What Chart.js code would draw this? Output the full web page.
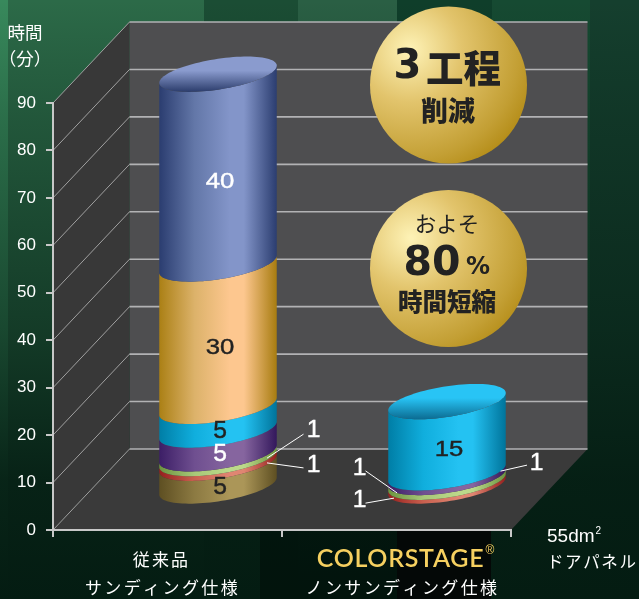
<!DOCTYPE html>
<html>
<head>
<meta charset="utf-8">
<title>工程削減</title>
<script src="https://cdn.jsdelivr.net/npm/chart.js@4/dist/chart.umd.min.js"></script>
<style>
html, body { margin: 0; padding: 0; background: #06231a; }
canvas { display: block; }
</style>
</head>
<body>
<canvas id="chart" width="639" height="599"></canvas>
<script>
// data, bottom of the stack first
const categories = [["従来品", "サンディング仕様"], ["COLORSTAGE", "ノンサンディング仕様"]];
const yTicks = [0, 10, 20, 30, 40, 50, 60, 70, 80, 90];
const seriesOlive = [5, 0];
const seriesRed = [1, 1];
const seriesGreen = [1, 1];
const seriesPurple = [5, 1];
const seriesCyan = [5, 15];
const seriesOrange = [30, 0];
const seriesBlue = [40, 0];

const FONT_JP = '"Noto Sans CJK JP", sans-serif';
const FONT_NUM = '"DejaVu Sans", sans-serif';
const FONT_AXIS = '"Liberation Sans", sans-serif';

// the cylinders stand this far back from the front edge of the floor
const DEPTH_X = 50.5;
const DEPTH_Y = 43;
// back wall offset
const WALL_X = 76.5;
const WALL_Y = 81;

// vertical stripes of the backdrop: from x, to x, colour at the top
const stripes = [
    [0, 8, "#38895c"],
    [8, 204, "#2c6a48"],
    [204, 298, "#1b4d34"],
    [298, 397, "#2a5f44"],
    [397, 492, "#0f3e2a"],
    [492, 590, "#164a32"],
    [590, 639, "#153f2e"],
];

// side: [edge, middle, highlight, edge], top: [back, front]
const skins = [
    { side: ["#5e4f22", "#8c7a42", "#ab9658", "#5e4f22"], label: "#222" },
    { side: ["#96201e", "#c9604f", "#e08672", "#96201e"], label: "#222" },
    { side: ["#6c9440", "#a8c878", "#bcd98a", "#6c9440"], label: "#222" },
    { side: ["#3c1e66", "#6f4f90", "#86659f", "#33185c"], label: "#fff" },
    { side: ["#007ea6", "#10aedd", "#24c2f2", "#00749b"], top: ["#28c4f5", "#0b6a90"], label: "#222" },
    { side: ["#ab8015", "#dcb26a", "#fdc78f", "#a87c10"], top: ["#fdc78f", "#ab8015"], label: "#222" },
    { side: ["#2b3d70", "#6377a8", "#8395c9", "#2b3d70"], top: ["#8a9bce", "#2a3b6a"], label: "#fff" },
];

// annotation leaders for the thin bands: dataset, category, anchor and label offsets from the bar centre
const leaders = [
    { ds: 2, cat: 0, from: [49, 2], to: [85.5, -22], text: [95.5, -26] },
    { ds: 1, cat: 0, from: [49, 2], to: [85.5, 7], text: [95.5, 5] },
    { ds: 3, cat: 1, from: [53.5, -4], to: [80, -10], text: [89.5, -12] },
    { ds: 2, cat: 1, from: [-50, 13], to: [-81.5, -9], text: [-87.5, -11] },
    { ds: 1, cat: 1, from: [-53, 14], to: [-81.5, 19], text: [-87.5, 16.5] },
];

// one side of the tilted end ellipse, from the left extreme round the front to the right one
function rimPoints(cx, cy, w) {
    const R = w / 2, S = 8.65, H = 15.4;
    const pts = [];
    for (let i = 0; i <= 48; i++) {
        const t = Math.PI - (Math.PI * i) / 48;
        pts.push([cx + R * Math.cos(t), cy - S * Math.cos(t) + H * Math.sin(t)]);
    }
    return pts;
}

function drawSegment(ctx, bar, skin, isTop) {
    const cx = bar.x + DEPTH_X;
    const w = bar.width;
    const yBase = bar.base - DEPTH_Y;
    const yTop = bar.y - DEPTH_Y;
    const grad = ctx.createLinearGradient(cx - w / 2, 0, cx + w / 2, 0);
    grad.addColorStop(0, skin.side[0]);
    grad.addColorStop(0.3, skin.side[1]);
    grad.addColorStop(0.6, skin.side[2]);
    grad.addColorStop(0.72, skin.side[2]);
    grad.addColorStop(1, skin.side[3]);
    const lower = rimPoints(cx, yBase, w);
    const upper = rimPoints(cx, yTop, w).reverse();
    ctx.beginPath();
    lower.concat(upper).forEach((p, i) => (i ? ctx.lineTo(p[0], p[1]) : ctx.moveTo(p[0], p[1])));
    ctx.closePath();
    ctx.fillStyle = grad;
    ctx.fill();
    if (isTop) {
        const front = rimPoints(cx, yTop, w);
        const back = front.map((p) => [2 * cx - p[0], 2 * yTop - p[1]]);
        const g2 = ctx.createLinearGradient(0, yTop - 18, 0, yTop + 18);
        g2.addColorStop(0, skin.top[0]);
        g2.addColorStop(0.4, skin.top[0]);
        g2.addColorStop(1, skin.top[1]);
        ctx.beginPath();
        front.concat(back).forEach((p, i) => (i ? ctx.lineTo(p[0], p[1]) : ctx.moveTo(p[0], p[1])));
        ctx.closePath();
        ctx.fillStyle = g2;
        ctx.fill();
    }
}

function text(ctx, str, x, y, font, color, align, spacing) {
    ctx.font = font;
    ctx.fillStyle = color;
    ctx.textAlign = align || "center";
    ctx.textBaseline = "middle";
    ctx.letterSpacing = spacing || "0px";
    ctx.fillText(str, x, y);
    ctx.letterSpacing = "0px";
}

// the numbers on the chart are set in a wide face, so stretch Liberation a bit
function wideNumber(ctx, str, x, y, color) {
    const twoDigits = str.length > 1;
    ctx.save();
    ctx.translate(x, y);
    ctx.scale(twoDigits ? 1.17 : 1.05, 1);
    ctx.font = (twoDigits ? 22 : 23.5) + "px " + FONT_AXIS;
    ctx.fillStyle = color;
    ctx.strokeStyle = color;
    ctx.lineWidth = 0.4;
    ctx.textAlign = "center";
    ctx.textBaseline = "middle";
    ctx.fillText(str, 0, 0);
    ctx.strokeText(str, 0, 0);
    ctx.restore();
}

function badge(ctx, cx, cy, r, hx, hy) {
    const g = ctx.createRadialGradient(hx, hy, 2, hx, hy, r * 1.85);
    g.addColorStop(0, "#fdf1b4");
    g.addColorStop(0.35, "#e2c46c");
    g.addColorStop(0.75, "#c39f34");
    g.addColorStop(1, "#ac8208");
    ctx.beginPath();
    ctx.arc(cx, cy, r, 0, Math.PI * 2);
    ctx.fillStyle = g;
    ctx.fill();
}

const roomPlugin = {
    id: "room",
    beforeDraw(chart) {
        const { ctx, width, height, chartArea: a, scales: { y } } = chart;
        ctx.save();
        // green backdrop
        stripes.forEach((s) => {
            ctx.fillStyle = s[2];
            ctx.fillRect(s[0], 0, s[1] - s[0], height);
        });
        const shade = ctx.createLinearGradient(0, 0, 0, height);
        shade.addColorStop(0, "rgba(4,28,18,0)");
        shade.addColorStop(0.2, "rgba(4,28,18,0.25)");
        shade.addColorStop(0.55, "rgba(4,28,18,0.6)");
        shade.addColorStop(0.8, "rgba(4,28,18,0.92)");
        shade.addColorStop(1, "rgba(4,28,18,1)");
        ctx.fillStyle = shade;
        ctx.fillRect(0, 0, width, height);
        // darker bands along the bottom, black behind the logo
        ctx.fillStyle = "rgba(0,10,6,0.45)";
        ctx.fillRect(260, 530, 137, 69);
        ctx.fillStyle = "#040807";
        ctx.fillRect(397, 530, 94, 69);

        const top = y.getPixelForValue(y.max);
        const bottom = y.getPixelForValue(0);
        // back wall
        ctx.fillStyle = "#4e4e50";
        ctx.fillRect(a.left + WALL_X, top - WALL_Y, a.right - a.left, bottom - top);
        // side wall
        ctx.fillStyle = "#383838";
        ctx.beginPath();
        ctx.moveTo(a.left, bottom);
        ctx.lineTo(a.left, top);
        ctx.lineTo(a.left + WALL_X, top - WALL_Y);
        ctx.lineTo(a.left + WALL_X, bottom - WALL_Y);
        ctx.closePath();
        ctx.fill();
        // floor
        ctx.fillStyle = "#3a3a3a";
        ctx.beginPath();
        ctx.moveTo(a.left, bottom);
        ctx.lineTo(a.right, bottom);
        ctx.lineTo(a.right + WALL_X, bottom - WALL_Y);
        ctx.lineTo(a.left + WALL_X, bottom - WALL_Y);
        ctx.closePath();
        ctx.fill();
        // gridlines run along the side wall and then the back wall
        y.ticks.forEach((t) => {
            const py = y.getPixelForValue(t.value);
            ctx.strokeStyle = "#a0a0a0";
            ctx.lineWidth = 1;
            ctx.beginPath();
            ctx.moveTo(a.left, py);
            ctx.lineTo(a.left + WALL_X, py - WALL_Y);
            ctx.stroke();
            ctx.strokeStyle = "#b2b2b4";
            ctx.lineWidth = 1.6;
            ctx.beginPath();
            ctx.moveTo(a.left + WALL_X, py - WALL_Y);
            ctx.lineTo(a.right + WALL_X, py - WALL_Y);
            ctx.stroke();
        });
        ctx.restore();
    },
    afterDatasetsDraw(chart) {
        const { ctx, data } = chart;
        ctx.save();
        // cylinders, bottom band first
        data.labels.forEach((_, cat) => {
            let last = -1;
            data.datasets.forEach((ds, i) => { if (ds.data[cat] > 0) last = i; });
            data.datasets.forEach((ds, i) => {
                if (ds.data[cat] > 0) {
                    drawSegment(ctx, chart.getDatasetMeta(i).data[cat], skins[i], i === last);
                }
            });
        });
        // value labels on the thick bands
        data.labels.forEach((_, cat) => {
            data.datasets.forEach((ds, i) => {
                if (ds.data[cat] >= 5) {
                    const bar = chart.getDatasetMeta(i).data[cat];
                    wideNumber(ctx, String(ds.data[cat]), bar.x + DEPTH_X + 2, (bar.y + bar.base) / 2 - DEPTH_Y + 13, skins[i].label);
                }
            });
        });
        // leaders for the thin bands
        leaders.forEach((l) => {
            const bar = chart.getDatasetMeta(l.ds).data[l.cat];
            const cx = bar.x + DEPTH_X;
            const cy = (bar.y + bar.base) / 2 - DEPTH_Y;
            ctx.strokeStyle = "#fff";
            ctx.lineWidth = 1;
            ctx.beginPath();
            ctx.moveTo(cx + l.from[0], cy + l.from[1]);
            ctx.lineTo(cx + l.to[0], cy + l.to[1]);
            ctx.stroke();
            wideNumber(ctx, String(data.datasets[l.ds].data[l.cat]), cx + l.text[0], cy + l.text[1], "#fff");
        });
        ctx.restore();
    },
    afterDraw(chart) {
        const { ctx } = chart;
        ctx.save();
        badge(ctx, 448.5, 85, 78.5, 410, 50);
        text(ctx, "3", 407.5, 68, "bold 40px " + FONT_NUM, "#222");
        text(ctx, "工程", 463.5, 68, "900 37.5px " + FONT_JP, "#222");
        text(ctx, "削減", 448, 111, "900 27px " + FONT_JP, "#222");
        badge(ctx, 448.5, 268.5, 78.5, 411, 238);
        text(ctx, "およそ", 447, 224, "400 21.5px " + FONT_JP, "#222");
        text(ctx, "80", 432, 264, "bold 41px " + FONT_NUM, "#222");
        text(ctx, "%", 478, 268, "bold 24px " + FONT_NUM, "#222");
        text(ctx, "時間短縮", 447, 302, "900 24.5px " + FONT_JP, "#222");

        // axis titles
        text(ctx, "時間", 25, 32, "400 17.5px " + FONT_JP, "#fff");
        text(ctx, "（分）", 25, 58, "400 17.5px " + FONT_JP, "#fff");
        text(ctx, "55dm", 547, 537, "19px " + FONT_AXIS, "#fff", "left");
        text(ctx, "2", 595.5, 531, "10px " + FONT_AXIS, "#fff", "left");
        text(ctx, "ドアパネル", 547, 562, "400 16.5px " + FONT_JP, "#fff", "left", "1.6px");

        // category captions, the second one has a gold logo line
        const x = chart.scales.x;
        const c0 = x.getPixelForTick(0);
        const c1 = x.getPixelForTick(1);
        text(ctx, categories[0][0], c0 - 6, 560, "400 17px " + FONT_JP, "#fff", "center", "2.2px");
        text(ctx, categories[0][1], c0 - 5, 587.5, "400 17px " + FONT_JP, "#fff", "center", "2.4px");
        text(ctx, categories[1][0], c1 + 4, 559, "600 25px Lato, sans-serif", "#f6d060", "center", "0.7px");
        text(ctx, "®", 490, 551, "12px " + FONT_AXIS, "#f6d060");
        text(ctx, categories[1][1], c1 + 6, 587.5, "400 17px " + FONT_JP, "#fff", "center", "2.4px");
        ctx.restore();
    },
};

const seriesList = [seriesOlive, seriesRed, seriesGreen, seriesPurple, seriesCyan, seriesOrange, seriesBlue];

new Chart(document.getElementById("chart"), {
    type: "bar",
    data: {
        labels: categories,
        datasets: seriesList.map((values) => ({
            data: values,
            backgroundColor: "transparent",
            borderWidth: 0,
            barPercentage: 0.513,
            categoryPercentage: 1,
        })),
    },
    options: {
        responsive: false,
        animation: false,
        devicePixelRatio: 1,
        layout: { padding: { top: 103, right: 128, left: 0, bottom: 0 } },
        plugins: { legend: { display: false }, tooltip: { enabled: false } },
        scales: {
            x: {
                stacked: true,
                afterFit(scale) { scale.height = 69; },
                ticks: { display: false },
                grid: { drawOnChartArea: false, drawTicks: true, tickLength: 7, color: "#c8c8c8", lineWidth: 2 },
                border: { color: "#c8c8c8", width: 2 },
            },
            y: {
                stacked: true,
                min: yTicks[0],
                max: yTicks[yTicks.length - 1],
                afterFit(scale) { scale.width = 53; },
                afterBuildTicks(scale) { scale.ticks = yTicks.map((value) => ({ value })); },
                ticks: { color: "#fff", padding: 10, font: { family: "Liberation Sans", size: 17 } },
                grid: { drawOnChartArea: false, drawTicks: true, tickLength: 7, color: "#c8c8c8", lineWidth: 2 },
                border: { color: "#c8c8c8", width: 2 },
            },
        },
    },
    plugins: [roomPlugin],
});
</script>
</body>
</html>
